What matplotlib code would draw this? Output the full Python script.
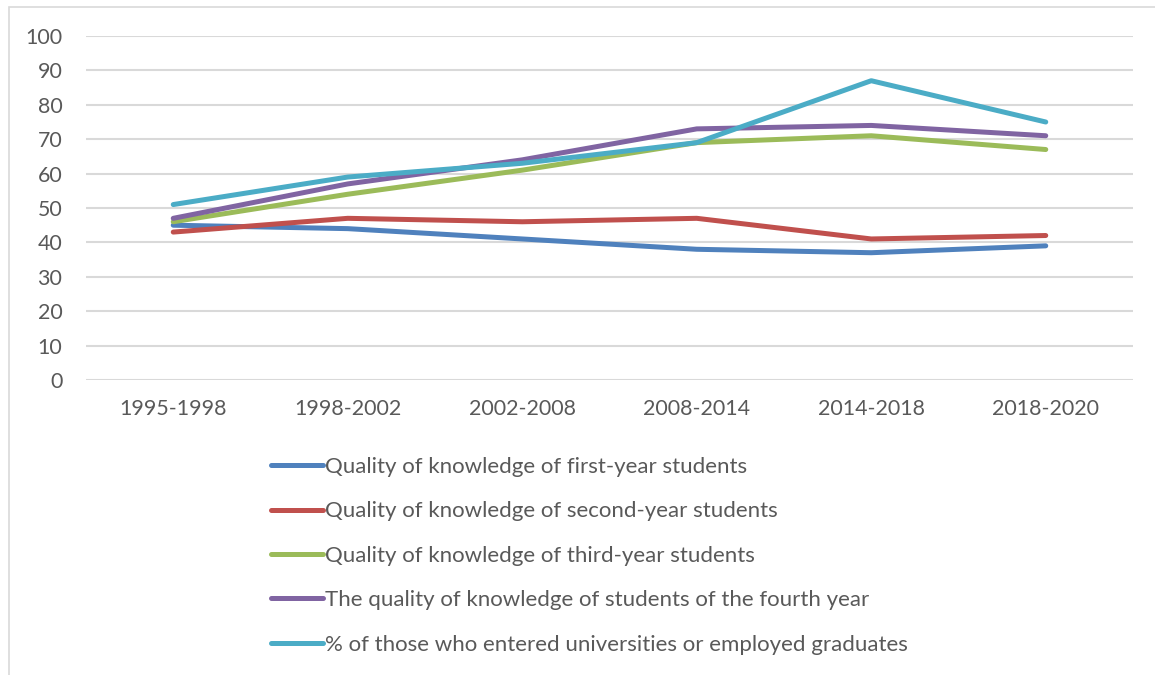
import matplotlib.pyplot as plt
from matplotlib.patches import Rectangle

plt.rcParams['font.family'] = ['Lato', 'DejaVu Sans']

periods = ['1995-1998', '1998-2002', '2002-2008', '2008-2014', '2014-2018', '2018-2020']
first_year = [45, 44, 41, 38, 37, 39]
second_year = [43, 47, 46, 47, 41, 42]
third_year = [46, 54, 61, 69, 71, 67]
fourth_year = [47, 57, 64, 73, 74, 71]
entered = [51, 59, 63, 69, 87, 75]

labels = ['Quality of knowledge of first-year students',
          'Quality of knowledge of second-year students',
          'Quality of knowledge of third-year students',
          'The quality of knowledge of students of the fourth year',
          '% of those who entered universities or employed graduates']
colors = ['#4f81bd', '#c0504d', '#9bbb59', '#8064a2', '#4bacc6']
txt = '#595959'

W, H = 1155, 675
fig = plt.figure(figsize=(W / 100, H / 100), dpi=100)
# chart frame (cropped on the right and bottom)
fig.patches.append(Rectangle((9 / W, -0.1), 1.2, 1 - 7 / H + 0.1, transform=fig.transFigure,
                             fill=False, edgecolor='#d9d9d9', linewidth=1.2))

ax = fig.add_axes([86 / W, 1 - 380 / H, (1133 - 86) / W, (380 - 36) / H])
x = range(len(periods))
for series, lab, c in zip([first_year, second_year, third_year, fourth_year, entered], labels, colors):
    ax.plot(x, series, color=c, linewidth=3.6, solid_capstyle='round', label=lab)

ax.set_xlim(-0.5, len(periods) - 0.5)
ax.set_ylim(0, 100)
ax.set_yticks(range(0, 101, 10))
ax.set_xticks(list(x))
ax.set_xticklabels(periods)
ax.grid(axis='y', color='#d9d9d9', linewidth=1.5)
ax.set_axisbelow(True)
for s in ax.spines.values():
    s.set_visible(False)
ax.tick_params(length=0, colors=txt, labelsize=15.4)
ax.tick_params(axis='y', pad=17)
ax.tick_params(axis='x', pad=14)

handles, labs = ax.get_legend_handles_labels()
fig.legend(handles, labs, loc='upper left', bbox_to_anchor=(262 / W, 1 - 448 / H),
           frameon=False, fontsize=16, labelcolor=txt, handlelength=2.35,
           handletextpad=0.1, labelspacing=1.1, borderaxespad=0)

fig.savefig('out.png', dpi=100)
